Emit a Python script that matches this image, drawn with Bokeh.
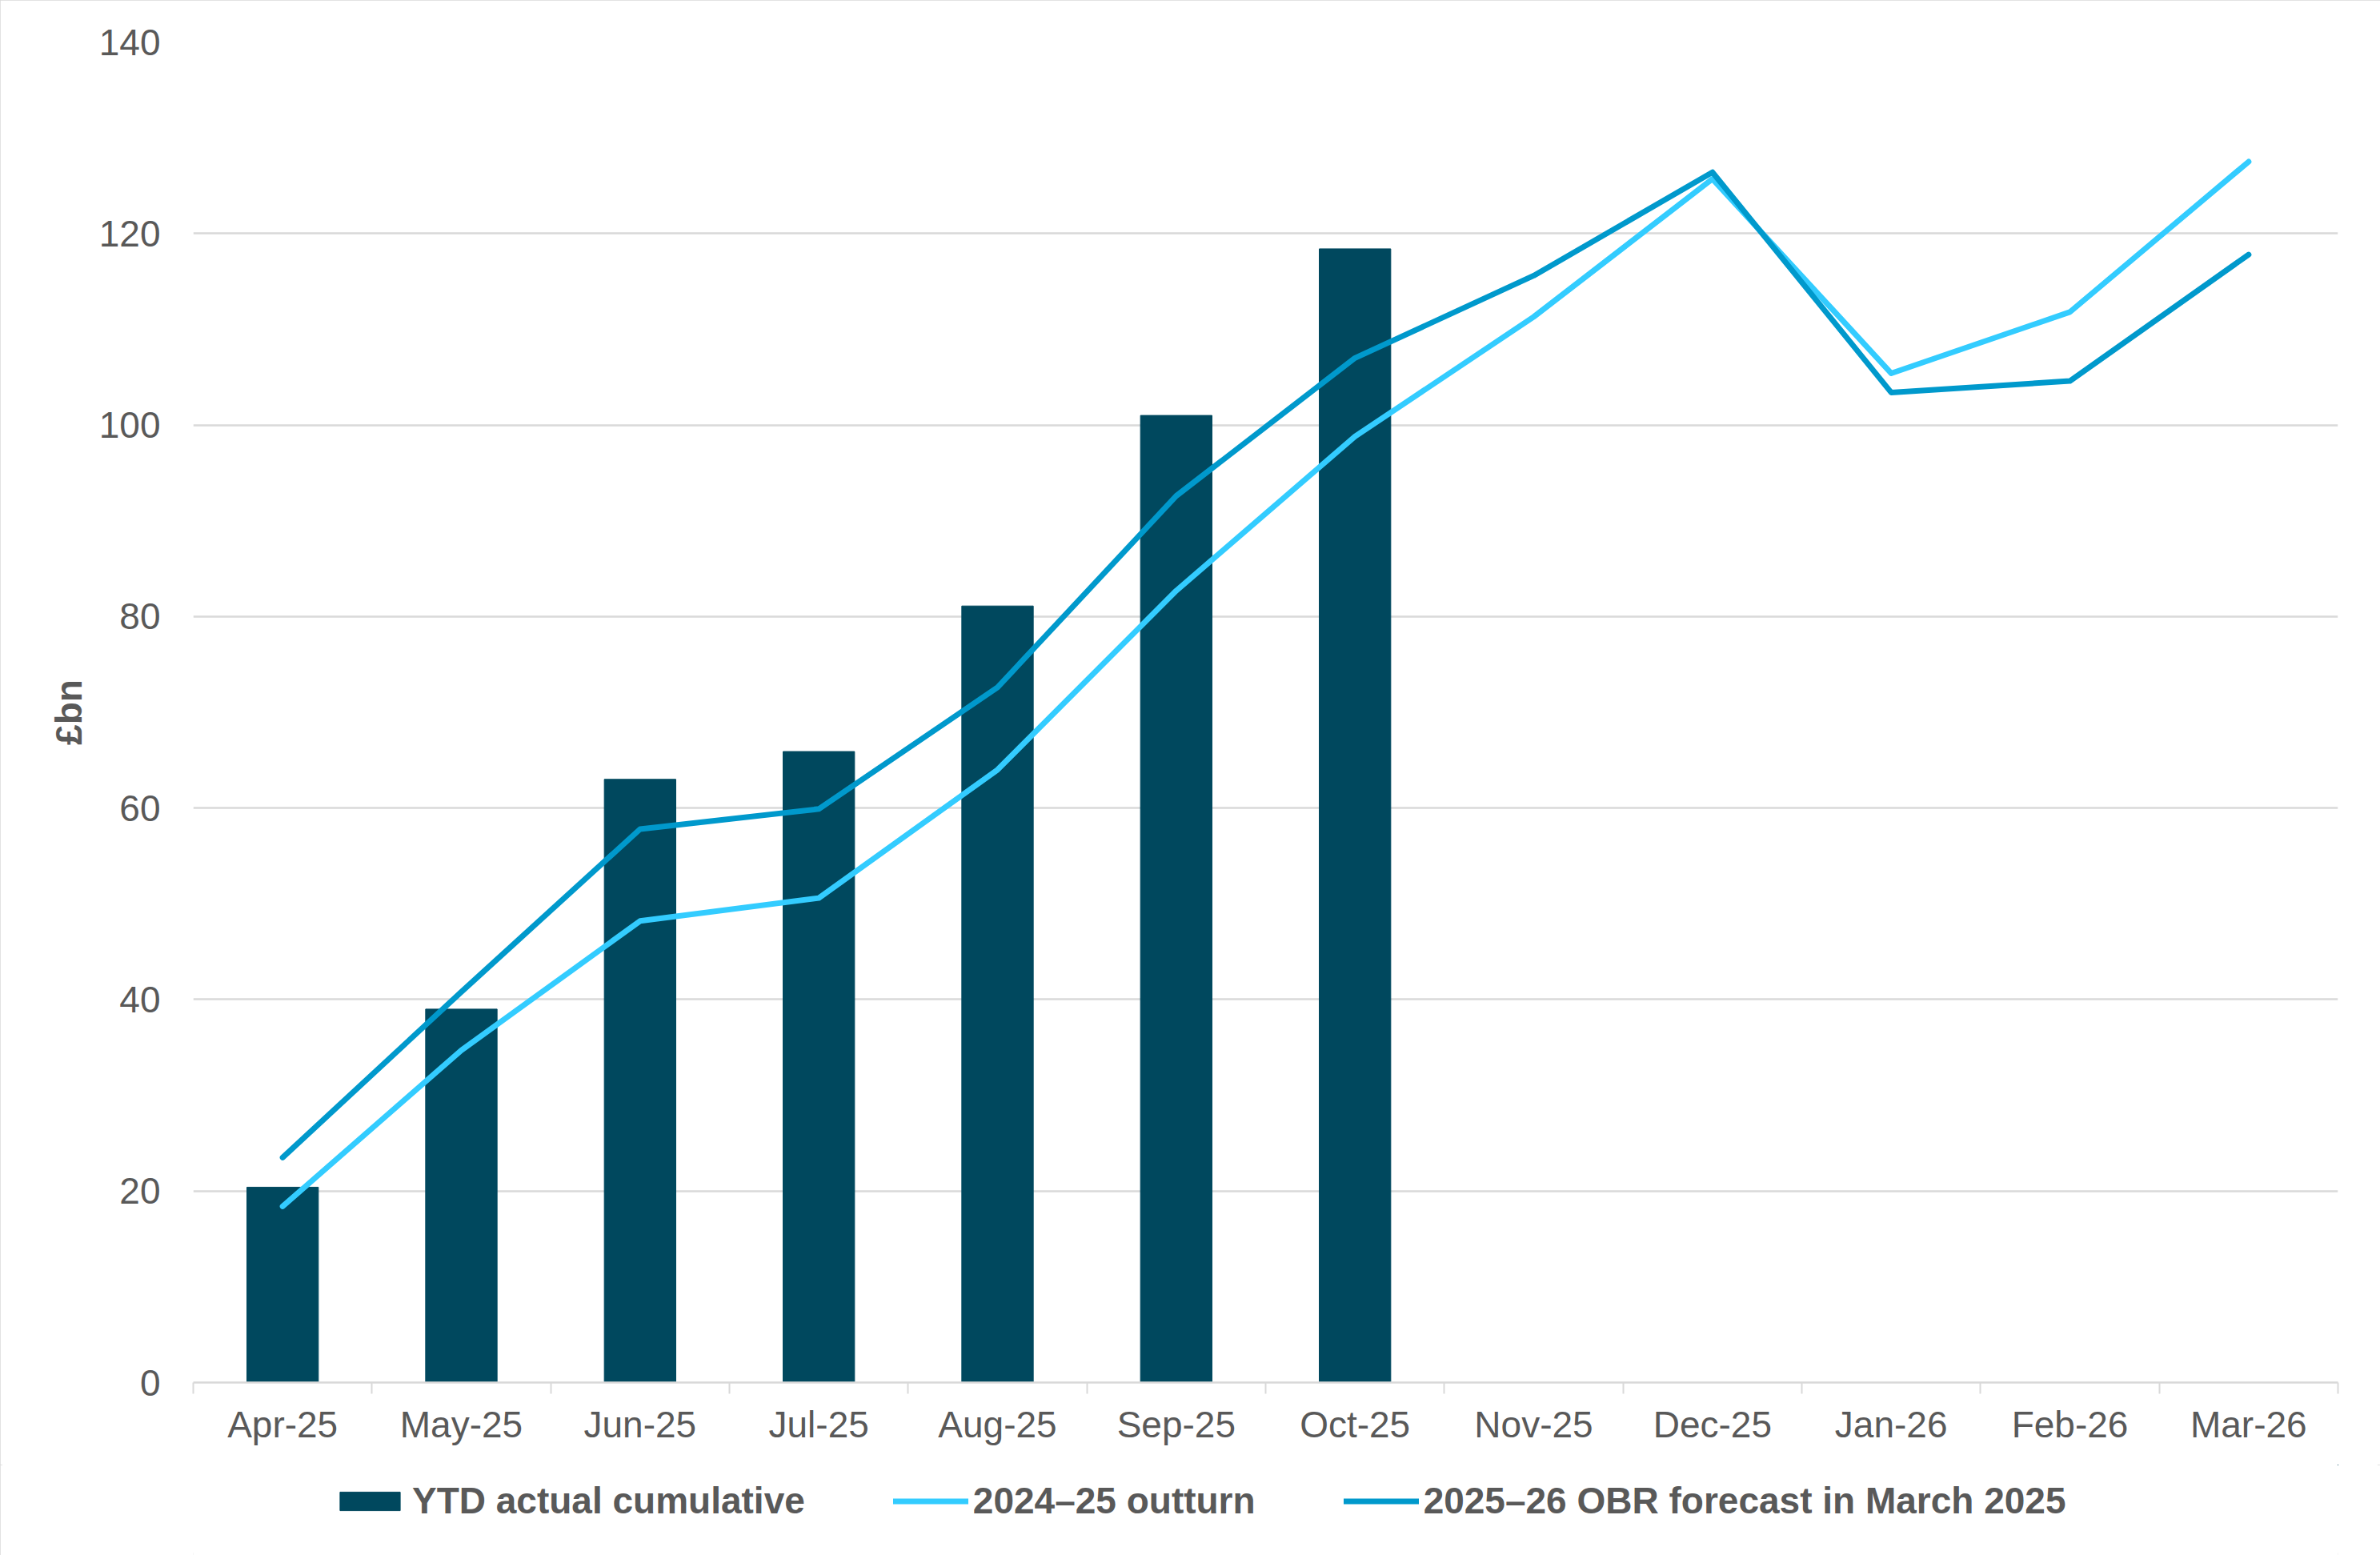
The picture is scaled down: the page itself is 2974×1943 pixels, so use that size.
from bokeh.plotting import figure
from bokeh.models import FixedTicker, Legend, LegendItem, Range1d
from bokeh.layouts import column
from bokeh.embed import file_html
from bokeh.resources import INLINE

# ---- data ----
months = ["Apr-25", "May-25", "Jun-25", "Jul-25", "Aug-25", "Sep-25",
          "Oct-25", "Nov-25", "Dec-25", "Jan-26", "Feb-26", "Mar-26"]
ytd_actual_cumulative = [20.4, 39.0, 63.0, 65.9, 81.1, 101.0, 118.4]
outturn_2024_25 = [18.4, 34.7, 48.2, 50.6, 64.0, 82.7, 98.8, 111.3, 125.7, 105.4, 111.8, 127.5]
obr_forecast_2025_26 = [23.5, 40.8, 57.8, 59.9, 72.6, 92.6, 107.0, 115.6, 126.4, 103.4, 104.6, 117.8]
y_ticks = [0, 20, 40, 60, 80, 100, 120, 140]
series_names = ["YTD actual cumulative", "2024\u201325 outturn",
                "2025\u201326 OBR forecast in March 2025"]

FONT = "Liberation Sans"
TXT = "#595959"
GRID = "#D9D9D9"
C_BAR = "#00485E"
C_OUT = "#33CCFF"
C_OBR = "#0099CC"

x_centers = [i + 0.5 for i in range(len(months))]
x_bounds = list(range(len(months) + 1))
n_bars = len(ytd_actual_cumulative)

# ---- main chart ----
p = figure(width=2974, height=1830,
           x_range=Range1d(0, len(months)), y_range=Range1d(0, 140),
           output_backend="svg", toolbar_location=None,
           min_border_left=241, min_border_right=53,
           min_border_top=52, min_border_bottom=103)
p.title.visible = False
p.outline_line_color = None
p.background_fill_color = "white"
p.border_fill_color = "white"

p.vbar(x=x_centers[:n_bars], top=ytd_actual_cumulative, width=0.4, color=C_BAR)
p.line(x=x_centers, y=outturn_2024_25, line_color=C_OUT,
       line_width=7, line_cap="round", line_join="round")
p.line(x=x_centers, y=obr_forecast_2025_26, line_color=C_OBR,
       line_width=7, line_cap="round", line_join="round")

# x axis
xa = p.xaxis[0]
xa.ticker = FixedTicker(ticks=x_centers, minor_ticks=x_bounds)
xa.major_label_overrides = {c: m for c, m in zip(x_centers, months)}
xa.major_tick_line_color = None
xa.major_tick_out = 0
xa.major_tick_in = 0
xa.minor_tick_line_color = GRID
xa.minor_tick_line_width = 2
xa.minor_tick_out = 14
xa.minor_tick_in = 0
xa.axis_line_color = GRID
xa.axis_line_width = 2.5
xa.major_label_standoff = 12
xa.major_label_text_font = FONT
xa.major_label_text_font_size = "46px"
xa.major_label_text_color = TXT

# y axis
ya = p.yaxis[0]
ya.ticker = FixedTicker(ticks=y_ticks)
ya.axis_line_color = None
ya.major_tick_line_color = None
ya.minor_tick_line_color = None
ya.major_tick_out = 0
ya.major_tick_in = 0
ya.major_label_standoff = 41
ya.major_label_text_font = FONT
ya.major_label_text_font_size = "46px"
ya.major_label_text_color = TXT
ya.axis_label = "\u00a3bn"
ya.axis_label_text_font = FONT
ya.axis_label_text_font_style = "bold"
ya.axis_label_text_font_size = "46px"
ya.axis_label_text_color = TXT
ya.axis_label_standoff = 9

p.xgrid.grid_line_color = None
p.ygrid.grid_line_color = GRID
p.ygrid.grid_line_width = 2.5

# ---- legend strip: same series drawn off-range, used only for the legend ----
lg = figure(width=2974, height=113, x_range=Range1d(-40, -39), y_range=Range1d(-40, -39),
            output_backend="svg", toolbar_location=None,
            min_border_left=241, min_border_right=53,
            min_border_top=0, min_border_bottom=0)
lg.title.visible = False
lg.axis.visible = False
lg.grid.grid_line_color = None
lg.outline_line_color = None
lg.border_fill_color = "white"
lg.background_fill_color = "white"
r_bar = lg.vbar(x=x_centers[:n_bars], top=ytd_actual_cumulative, width=0.4, color=C_BAR)
r_out = lg.line(x=x_centers, y=outturn_2024_25, line_color=C_OUT,
                line_width=7, line_cap="round")
r_obr = lg.line(x=x_centers, y=obr_forecast_2025_26, line_color=C_OBR,
                line_width=7, line_cap="round")

legend = Legend(items=[LegendItem(label=series_names[0], renderers=[r_bar]),
                       LegendItem(label=series_names[1], renderers=[r_out]),
                       LegendItem(label=series_names[2], renderers=[r_obr])],
                orientation="horizontal", location=(174, 41),
                glyph_width=94, glyph_height=29, label_standoff=6, spacing=110,
                padding=0, margin=0, border_line_color=None,
                background_fill_alpha=0,
                label_text_font=FONT, label_text_font_style="bold",
                label_text_font_size="46px", label_text_color=TXT)
lg.add_layout(legend, "center")

page = column(p, lg, spacing=0)
page.styles = {"outline": "3px solid #D9D9D9", "outline-offset": "-3px"}

open("out.html", "w").write(file_html(page, INLINE))
